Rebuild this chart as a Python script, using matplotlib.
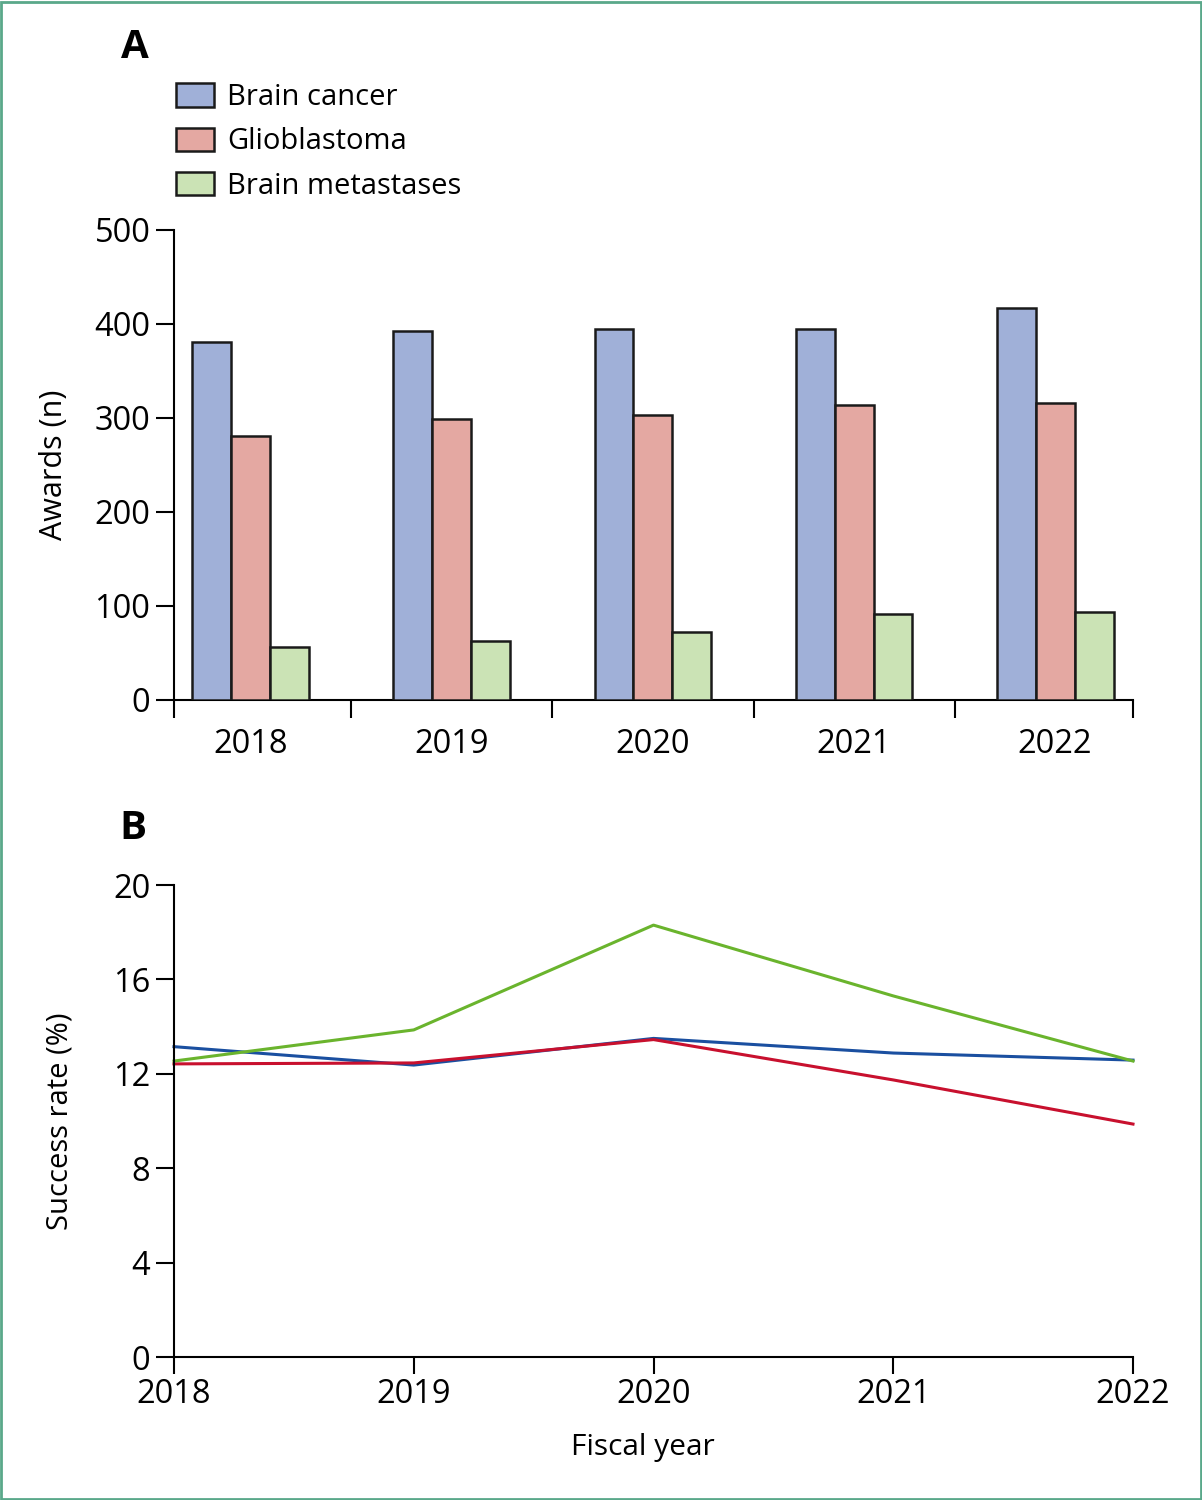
import matplotlib
matplotlib.use('Agg')
import matplotlib.pyplot as plt
import numpy as np

plt.rcParams['font.family'] = ['Open Sans', 'DejaVu Sans']

# data
years = ['2018', '2019', '2020', '2021', '2022']
awards_brain = [381, 393, 395, 395, 417]
awards_glio = [281, 299, 303, 314, 316]
awards_mets = [56, 63, 72, 91, 94]

rate_brain = [13.15, 12.37, 13.5, 12.88, 12.58]
rate_glio = [12.42, 12.46, 13.45, 11.74, 9.87]
rate_mets = [12.54, 13.86, 18.3, 15.3, 12.54]

series_names = ['Brain cancer', 'Glioblastoma', 'Brain metastases']
bar_cols = ['#a0b0d8', '#e4a8a2', '#cbe3b5']
line_cols = ['#1a4fa0', '#c8102e', '#6ab42d']

fs = 21      # legend / axis labels
tfs = 23.5   # tick labels
W, H = 1202, 1500
fig = plt.figure(figsize=(W / 100, H / 100), dpi=100)

def px(x0, y0, x1, y1):
    return [x0 / W, 1 - y1 / H, (x1 - x0) / W, (y1 - y0) / H]

# ---- panel A ----
ax = fig.add_axes(px(174, 230, 1133, 700))
x = np.arange(len(years))
bw = 0.194
for i, vals in enumerate([awards_brain, awards_glio, awards_mets]):
    ax.bar(x + (i - 1) * bw, vals, bw, color=bar_cols[i], edgecolor='#1a1a1a',
           linewidth=1.8, label=series_names[i], zorder=3)
ax.set_xlim(-0.383, 4.388)
ax.set_ylim(0, 500)
ax.set_yticks(range(0, 501, 100))
ax.set_xticks(x)
ax.set_xticklabels(years)
ax.set_xticks([-0.383, 0.5, 1.5, 2.5, 3.5, 4.388], minor=True)
ax.tick_params(axis='x', which='major', length=0, pad=20, labelsize=tfs)
ax.tick_params(axis='x', which='minor', length=13, width=1.5, direction='out')
ax.tick_params(axis='y', length=13, width=1.5, pad=4, labelsize=tfs)
for s in ['top', 'right']:
    ax.spines[s].set_visible(False)
for s in ['left', 'bottom']:
    ax.spines[s].set_linewidth(1.5)
ax.set_ylabel('Awards (n)', fontsize=fs + 1, labelpad=18)
ax.legend(loc='upper left', bbox_to_anchor=(176 / W, 1 - 83 / H),
          bbox_transform=fig.transFigure, frameon=False, fontsize=fs,
          handlelength=1.3, handleheight=0.85, handletextpad=0.45,
          labelspacing=0.53, borderpad=0, borderaxespad=0)
fig.text(121 / W, 1 - 48 / H, 'A', fontsize=29, fontweight='bold', va='center')

# ---- panel B ----
bx = fig.add_axes(px(174, 885, 1133, 1357))
xl = np.arange(len(years))
for vals, c in zip([rate_brain, rate_glio, rate_mets], line_cols):
    bx.plot(xl, vals, color=c, linewidth=2.2, clip_on=False)
bx.set_xlim(0, 4)
bx.set_ylim(0, 20)
bx.set_yticks(range(0, 21, 4))
bx.set_xticks(xl)
bx.set_xticklabels(years)
bx.tick_params(axis='x', length=12, width=1.5, pad=3, labelsize=tfs)
bx.tick_params(axis='y', length=13, width=1.5, pad=4, labelsize=tfs)
for s in ['top', 'right']:
    bx.spines[s].set_visible(False)
for s in ['left', 'bottom']:
    bx.spines[s].set_linewidth(1.5)
bx.set_ylabel('Success rate (%)', fontsize=fs, labelpad=28)
bx.set_xlabel('Fiscal year', fontsize=fs + 0.5)
bx.xaxis.set_label_coords(0.489, -0.162)
fig.text(119 / W, 1 - 828 / H, 'B', fontsize=29, fontweight='bold', va='center')

# green frame
fig.patches.append(plt.Rectangle((0.001, 0.001), 0.998, 0.998, transform=fig.transFigure,
                                 fill=False, edgecolor='#5aa88a', linewidth=2))

fig.savefig('out.png', dpi=100)
